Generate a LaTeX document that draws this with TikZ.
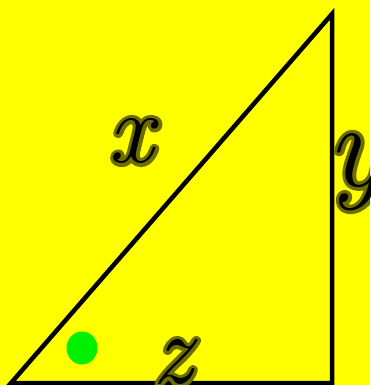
\documentclass[tikz,border=0pt]{standalone}
\usetikzlibrary{shapes.geometric}
\definecolor{bgyellow}{RGB}{255,255,0}
\definecolor{dotgreen}{RGB}{0,240,0}
\definecolor{halo}{RGB}{110,110,0}
\newcommand{\halostroke}{\special{pdf:literal direct 2 Tr 7 w 1 J 1 j}}
\tikzset{
  edge/.style={line width=4.5pt, line join=miter},
  letterhalo/.style={text=halo, inner sep=0pt, font=\fontsize{#1}{#1}\selectfont\itshape\halostroke},
  letterink/.style={text=black, inner sep=0pt, font=\fontsize{#1}{#1}\selectfont\itshape},
}
\begin{document}
\begin{tikzpicture}[x=1pt,y=1pt]
  \fill[bgyellow] (0,0) rectangle (370,-385);
  \useasboundingbox (0,0) rectangle (370,-385);
  \clip (0,0) rectangle (370,-385);
  \coordinate (A) at (11,-383);
  \coordinate (B) at (332,-383);
  \coordinate (C) at (332,-14);
  \draw[edge] (A) -- (C) -- (B) -- (A) -- cycle;
  \node[fill=dotgreen, ellipse, minimum width=31pt, minimum height=33pt, inner sep=0pt] (dot) at (82,-348) {};
  \node[letterhalo=100] (xh) at (131,-141) {x};
  \node[letterink=100] (x) at (131,-141) {x};
  \node[letterhalo=120] (yh) at (356,-172) {y};
  \node[letterink=120] (y) at (356,-172) {y};
  \node[letterhalo=100] (zh) at (172,-362) {z};
  \node[letterink=100] (z) at (172,-362) {z};
\end{tikzpicture}
\end{document}
